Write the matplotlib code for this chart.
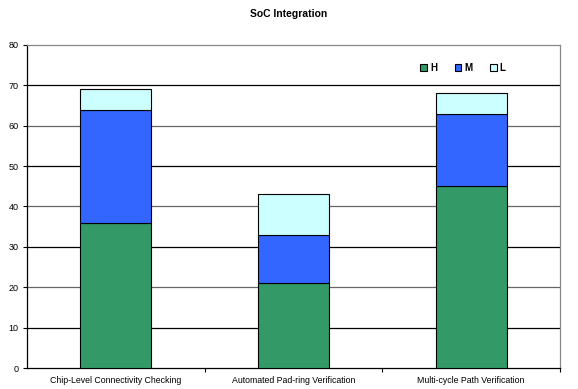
import matplotlib
matplotlib.use("Agg")
import matplotlib.pyplot as plt
import numpy as np

categories = ["Chip-Level Connectivity Checking", "Automated Pad-ring Verification", "Multi-cycle Path Verification"]
H = [36, 21, 45]
M = [28, 12, 18]
L = [5, 10, 5]
yticks = [0, 10, 20, 30, 40, 50, 60, 70, 80]

plt.rcParams['font.family'] = ['Liberation Sans', 'DejaVu Sans']

fig = plt.figure(figsize=(5.78, 3.89), dpi=100)
ax = fig.add_axes([27/578, 1-368/389, 533/578, 323/389])

x = np.arange(len(categories))
H_a, M_a, L_a = np.array(H), np.array(M), np.array(L)
w = 0.4
ax.bar(x, H_a, w, color="#339966", edgecolor="black", linewidth=0.8, label="H", zorder=3)
ax.bar(x, M_a, w, bottom=H_a, color="#3366FF", edgecolor="black", linewidth=0.8, label="M", zorder=3)
ax.bar(x, L_a, w, bottom=H_a+M_a, color="#CCFFFF", edgecolor="black", linewidth=0.8, label="L", zorder=3)

ax.set_xlim(-0.5, 2.5)
ax.set_ylim(0, 80)
ax.set_yticks(yticks)
ax.set_yticklabels([str(t) for t in yticks], fontsize=6.5)
ax.set_xticks(x)
ax.set_xticklabels(categories, fontsize=6.3)
ax.tick_params(axis='x', length=0, pad=6)
ax.set_xticks([0.5, 1.5, 2.5], minor=True)
ax.tick_params(axis='x', which='minor', length=3, width=0.8)
ax.tick_params(axis='y', length=3, width=0.8, pad=3)

for t in yticks[1:-1]:
    ax.axhline(t, color="black" if (t // 10) % 2 == 1 else "#666666", linewidth=0.9, zorder=1)

for s in ["left", "bottom"]:
    ax.spines[s].set_color("black")
    ax.spines[s].set_linewidth(0.9)
for s in ["top", "right"]:
    ax.spines[s].set_color("#888888")
    ax.spines[s].set_linewidth(0.9)

leg = ax.legend(loc="center", bbox_to_anchor=(0.818, 0.93), ncol=3, frameon=False,
                fontsize=7, handlelength=0.7, handleheight=0.7, handletextpad=0.3,
                columnspacing=1.8)
for t in leg.get_texts():
    t.set_fontweight("bold")

fig.text(0.5, 1-14/389, "SoC Integration", ha="center", va="center", fontsize=7.5, fontweight="bold")

fig.savefig("out.png", dpi=100)
